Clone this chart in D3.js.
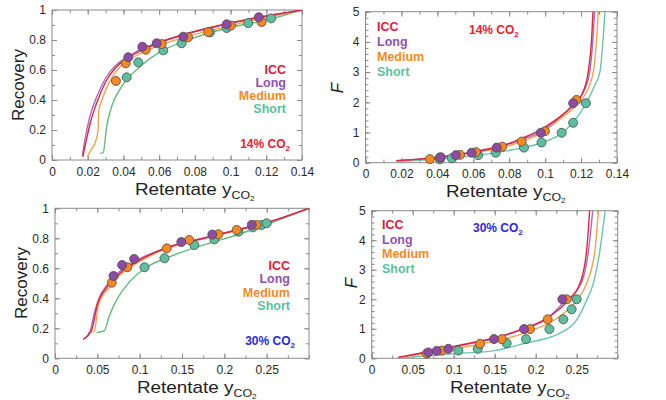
<!DOCTYPE html>
<html>
<head>
<meta charset="utf-8">
<script src="https://cdn.jsdelivr.net/npm/d3@7"></script>
<style>
  body { margin: 0; background: #fff; }
  svg { font-family: "Liberation Sans", Arial, sans-serif; }
</style>
</head>
<body>
<div id="chart"></div>
<script>
// series names + colours
var seriesNames = ["ICC", "Long", "Medium", "Short"];
var textColors = ["#e4163a", "#9052b0", "#f7891f", "#5cbf9e"];
var pointColors = [null, "#8e4ba6", "#f7891f", "#5cbf9e"];

// tick values / labels
var xTicks14 = [0, 0.02, 0.04, 0.06, 0.08, 0.1, 0.12, 0.14];
var xLabels14 = ["0", "0.02", "0.04", "0.06", "0.08", "0.1", "0.12", "0.14"];
var xTicks30 = [0, 0.05, 0.1, 0.15, 0.2, 0.25];
var xLabels30 = ["0", "0.05", "0.1", "0.15", "0.2", "0.25"];
var yTicksRec = [0, 0.2, 0.4, 0.6, 0.8, 1];
var yLabelsRec = ["0", "0.2", "0.4", "0.6", "0.8", "1"];
var yTicksF = [0, 1, 2, 3, 4, 5];
var yLabelsF = ["0", "1", "2", "3", "4", "5"];

// ---- 14% CO2, recovery ----
var rec14IccLine = [[0.0172,0.02],[0.019,0.12],[0.0215,0.25],[0.025,0.38],[0.03,0.52],[0.036,0.62],[0.0427,0.68],[0.05,0.73],[0.0586,0.775],[0.0735,0.835],[0.0978,0.908],[0.1165,0.953],[0.14,1.0]];
var rec14LongLine = [[0.017,0.03],[0.0185,0.14],[0.021,0.28],[0.025,0.42],[0.03,0.545],[0.036,0.635],[0.0427,0.69],[0.05,0.74],[0.0586,0.78],[0.0735,0.835],[0.0978,0.905],[0.1165,0.95],[0.14,1.0]];
var rec14MedLine = [[0.0198,0.02],[0.0215,0.06],[0.0246,0.13],[0.0258,0.2],[0.0262,0.33],[0.028,0.4],[0.0306,0.48],[0.034,0.56],[0.038,0.62],[0.045,0.68],[0.055,0.74],[0.0735,0.815],[0.0978,0.89],[0.1165,0.94],[0.14,1.0]];
var rec14ShortLine = [[0.0269,0.044],[0.0287,0.05],[0.0306,0.222],[0.0334,0.356],[0.039,0.489],[0.0493,0.622],[0.0623,0.733],[0.0735,0.789],[0.0978,0.878],[0.1202,0.933],[0.14,1.0]];
var rec14LongPts = [[0.0427,0.685],[0.0506,0.755],[0.0586,0.778],[0.0735,0.822],[0.0978,0.905],[0.1158,0.952]];
var rec14MedPts = [[0.0358,0.527],[0.0413,0.644],[0.0525,0.735],[0.0614,0.773],[0.0762,0.818],[0.0875,0.853],[0.1002,0.896],[0.1174,0.92]];
var rec14ShortPts = [[0.0418,0.551],[0.0483,0.651],[0.0623,0.731],[0.0726,0.778],[0.0885,0.851],[0.0978,0.88],[0.1099,0.913],[0.1227,0.944]];

// ---- 14% CO2, F ----
var f14IccLine = [[0.0172,0.07],[0.03,0.12],[0.04,0.18],[0.05,0.26],[0.06,0.36],[0.07,0.48],[0.08,0.64],[0.086,0.78],[0.0971,1.08],[0.1045,1.36],[0.1157,1.91],[0.1203,2.24],[0.124,3.01],[0.1259,4.12],[0.1268,5.2]];
var f14LongLine = [[0.0172,0.07],[0.03,0.12],[0.04,0.175],[0.05,0.25],[0.06,0.34],[0.073,0.5],[0.086,0.75],[0.0976,1.03],[0.105,1.34],[0.1156,1.92],[0.121,2.3],[0.1248,3.0],[0.1266,4.1],[0.1277,5.2]];
var f14MedLine = [[0.0172,0.06],[0.03,0.11],[0.04,0.16],[0.05,0.23],[0.06,0.32],[0.07,0.43],[0.08,0.57],[0.09,0.77],[0.099,1.02],[0.1064,1.36],[0.1175,1.91],[0.1221,2.24],[0.1268,3.01],[0.1287,4.12],[0.1298,5.2]];
var f14ShortLine = [[0.0172,0.04],[0.03,0.08],[0.04,0.12],[0.05,0.17],[0.06,0.23],[0.07,0.31],[0.08,0.41],[0.088,0.5],[0.098,0.66],[0.1082,0.94],[0.1157,1.34],[0.1231,2.0],[0.1277,2.57],[0.1305,3.01],[0.1323,4.12],[0.1335,5.2]];
var f14LongPts = [[0.0419,0.18],[0.0503,0.25],[0.0591,0.33],[0.073,0.5],[0.0976,0.99],[0.1156,1.97]];
var f14MedPts = [[0.0358,0.12],[0.0413,0.17],[0.0526,0.26],[0.0615,0.35],[0.0761,0.53],[0.0869,0.7],[0.0999,1.04],[0.1175,2.08]];
var f14ShortPts = [[0.0414,0.11],[0.048,0.15],[0.0627,0.25],[0.0725,0.33],[0.0882,0.5],[0.098,0.67],[0.1092,0.99],[0.1156,1.32],[0.1227,1.97]];

// ---- 30% CO2, recovery ----
var rec30IccLine = [[0.0334,0.127],[0.0433,0.189],[0.0504,0.367],[0.059,0.456],[0.0689,0.522],[0.0787,0.578],[0.0937,0.635],[0.1358,0.744],[0.1752,0.8],[0.2146,0.855],[0.2539,0.911],[0.3,1.0]];
var rec30LongLine = [[0.0334,0.127],[0.0413,0.178],[0.0464,0.3],[0.0512,0.389],[0.063,0.5],[0.0787,0.59],[0.0937,0.645],[0.1358,0.745],[0.1752,0.8],[0.2146,0.855],[0.2539,0.911],[0.3,1.0]];
var rec30MedLine = [[0.0394,0.171],[0.0465,0.182],[0.0512,0.355],[0.065,0.478],[0.0787,0.565],[0.0937,0.625],[0.1358,0.74],[0.1752,0.797],[0.2146,0.852],[0.2539,0.909],[0.3,1.0]];
var rec30ShortLine = [[0.0492,0.171],[0.0583,0.184],[0.0638,0.278],[0.0728,0.389],[0.0866,0.5],[0.1063,0.6],[0.1358,0.678],[0.1752,0.755],[0.2146,0.822],[0.2539,0.9],[0.3,1.0]];
var rec30LongPts = [[0.0691,0.549],[0.0793,0.622],[0.0935,0.662],[0.1492,0.775],[0.1858,0.825],[0.2325,0.89]];
var rec30MedPts = [[0.0671,0.504],[0.0854,0.607],[0.1321,0.733],[0.1585,0.789],[0.1931,0.827],[0.2146,0.856],[0.2378,0.889]];
var rec30ShortPts = [[0.1057,0.607],[0.1293,0.667],[0.1646,0.755],[0.1882,0.793],[0.2167,0.844],[0.2337,0.873],[0.2439,0.889],[0.25,0.9]];

// ---- 30% CO2, F ----
var f30IccLine = [[0.0325,0.03],[0.0793,0.28],[0.128,0.56],[0.1483,0.68],[0.1809,0.96],[0.2134,1.35],[0.2398,1.97],[0.254,2.54],[0.2622,3.67],[0.2662,5.2]];
var f30LongLine = [[0.0325,0.03],[0.0793,0.27],[0.128,0.54],[0.1483,0.66],[0.1849,0.99],[0.2134,1.33],[0.2325,1.85],[0.2556,2.54],[0.2645,3.67],[0.2702,5.2]];
var f30MedLine = [[0.0325,0.02],[0.08,0.22],[0.128,0.46],[0.1565,0.62],[0.1971,0.96],[0.2256,1.35],[0.25,1.97],[0.2622,2.54],[0.2723,3.67],[0.277,5.2]];
var f30ShortLine = [[0.0325,0.01],[0.07,0.09],[0.1077,0.17],[0.1483,0.25],[0.187,0.51],[0.2296,0.85],[0.25,1.3],[0.2622,1.97],[0.2703,2.54],[0.2784,3.67],[0.2855,5.2]];
var f30LongPts = [[0.0691,0.2],[0.0793,0.25],[0.0935,0.32],[0.1492,0.65],[0.1858,0.99],[0.2325,2.0]];
var f30MedPts = [[0.0671,0.16],[0.0854,0.26],[0.1321,0.49],[0.1585,0.65],[0.1931,0.99],[0.2146,1.32],[0.2378,2.0]];
var f30ShortPts = [[0.1057,0.26],[0.1293,0.32],[0.1646,0.51],[0.1882,0.65],[0.2167,0.99],[0.2337,1.32],[0.2439,1.66],[0.25,2.0]];

var svg = d3.select("#chart").append("svg")
    .attr("width", 666)
    .attr("height", 400);

var panels = [
  { id: "p1", left: 52, top: 10, w: 250, h: 150, xDom: [0, 0.14], yDom: [0, 1],
    xTicks: xTicks14, xLabels: xLabels14, xMinor: d3.range(0, 0.1401, 0.01),
    yTicks: yTicksRec, yLabels: yLabelsRec, yMinor: d3.range(0, 1.001, 0.1),
    lines: [rec14IccLine, rec14LongLine, rec14MedLine, rec14ShortLine],
    pts: [null, rec14LongPts, rec14MedPts, rec14ShortPts],
    lineColors: ["#e0243e", "#a66cc8", "#f9a04a", "#62bb7c"],
    yTitle: "Recovery", yTitleX: 24, yTitleY: 85, italic: false,
    xTitleX: 135, xTitleY: 194.5,
    legend: { x: 286, y: 74, dy: 13, anchor: "end" },
    gas: { x: 290, y: 148, text: "14% CO", color: "#e8202f", anchor: "end" } },
  { id: "p2", left: 365.5, top: 11.7, w: 251.5, h: 151, xDom: [0, 0.14], yDom: [0, 5],
    xTicks: xTicks14, xLabels: xLabels14, xMinor: d3.range(0, 0.1401, 0.01),
    yTicks: yTicksF, yLabels: yLabelsF, yMinor: d3.range(0, 5.001, 0.2),
    lines: [f14IccLine, f14LongLine, f14MedLine, f14ShortLine],
    pts: [null, f14LongPts, f14MedPts, f14ShortPts],
    lineColors: ["#e0243e", "#a66cc8", "#f9a04a", "#6cc4b0"],
    yTitle: "F", yTitleX: 343, yTitleY: 88, italic: true,
    xTitleX: 446, xTitleY: 197,
    legend: { x: 377, y: 31, dy: 15, anchor: "start" },
    gas: { x: 469, y: 34, text: "14% CO", color: "#e8202f", anchor: "start" } },
  { id: "p3", left: 55, top: 208.3, w: 254, h: 150, xDom: [0, 0.3], yDom: [0, 1],
    xTicks: xTicks30, xLabels: xLabels30, xMinor: d3.range(0, 0.3001, 0.025),
    yTicks: yTicksRec, yLabels: yLabelsRec, yMinor: d3.range(0, 1.001, 0.1),
    lines: [rec30IccLine, rec30LongLine, rec30MedLine, rec30ShortLine],
    pts: [null, rec30LongPts, rec30MedPts, rec30ShortPts],
    lineColors: ["#e0243e", "#a66cc8", "#f9a04a", "#62bb7c"],
    yTitle: "Recovery", yTitleX: 27, yTitleY: 283, italic: false,
    xTitleX: 137, xTitleY: 392.5,
    legend: { x: 290, y: 270, dy: 13.3, anchor: "end" },
    gas: { x: 295, y: 345, text: "30% CO", color: "#2a2ae0", anchor: "end" } },
  { id: "p4", left: 371.7, top: 210.7, w: 246, h: 147.6, xDom: [0, 0.3], yDom: [0, 5],
    xTicks: xTicks30, xLabels: xLabels30, xMinor: d3.range(0, 0.3001, 0.025),
    yTicks: yTicksF, yLabels: yLabelsF, yMinor: d3.range(0, 5.001, 0.2),
    lines: [f30IccLine, f30LongLine, f30MedLine, f30ShortLine],
    pts: [null, f30LongPts, f30MedPts, f30ShortPts],
    lineColors: ["#e0243e", "#a66cc8", "#f9a04a", "#6cc4b0"],
    yTitle: "F", yTitleX: 357, yTitleY: 283, italic: true,
    xTitleX: 450, xTitleY: 393,
    legend: { x: 382, y: 229, dy: 14.5, anchor: "start" },
    gas: { x: 473, y: 232, text: "30% CO", color: "#2a2ae0", anchor: "start" } }
];

function styleAxis(sel) {
  sel.select(".domain").remove();
  sel.selectAll(".tick line").attr("stroke", "#8a8a8a");
  sel.selectAll(".tick text").attr("fill", "#2a2a2a").attr("font-size", 12);
}

panels.forEach(function(p) {
  var g = svg.append("g").attr("transform", "translate(" + p.left + "," + p.top + ")");
  var x = d3.scaleLinear().domain(p.xDom).range([0, p.w]);
  var y = d3.scaleLinear().domain(p.yDom).range([p.h, 0]);

  // minor ticks, all four sides, pointing inward
  g.append("g").attr("transform", "translate(0," + p.h + ")")
    .call(d3.axisBottom(x).tickValues(p.xMinor).tickSize(-3).tickFormat("")).call(styleAxis);
  g.append("g")
    .call(d3.axisTop(x).tickValues(p.xMinor).tickSize(-3).tickFormat("")).call(styleAxis);
  g.append("g")
    .call(d3.axisLeft(y).tickValues(p.yMinor).tickSize(-3).tickFormat("")).call(styleAxis);
  g.append("g").attr("transform", "translate(" + p.w + ",0)")
    .call(d3.axisRight(y).tickValues(p.yMinor).tickSize(-3).tickFormat("")).call(styleAxis);

  // major ticks with labels
  g.append("g").attr("transform", "translate(0," + p.h + ")")
    .call(d3.axisBottom(x).tickValues(p.xTicks).tickSize(-5).tickPadding(7)
      .tickFormat(function(d, i) { return p.xLabels[i]; }))
    .call(styleAxis);
  g.append("g")
    .call(d3.axisLeft(y).tickValues(p.yTicks).tickSize(-5).tickPadding(6)
      .tickFormat(function(d, i) { return p.yLabels[i]; }))
    .call(styleAxis);
  g.append("g")
    .call(d3.axisTop(x).tickValues(p.xTicks).tickSize(-5).tickFormat("")).call(styleAxis);
  g.append("g").attr("transform", "translate(" + p.w + ",0)")
    .call(d3.axisRight(y).tickValues(p.yTicks).tickSize(-5).tickFormat("")).call(styleAxis);

  // frame
  g.append("rect")
    .attr("width", p.w).attr("height", p.h)
    .attr("fill", "none").attr("stroke", "#8a8a8a").attr("stroke-width", 1);

  g.append("clipPath").attr("id", "clip-" + p.id)
    .append("rect").attr("width", p.w).attr("height", p.h);

  var line = d3.line()
    .x(d => x(d[0]))
    .y(d => y(d[1]))
    .curve(d3.curveMonotoneX);

  var lineOrder = [3, 2, 1, 0]; // short at back, ICC on top
  lineOrder.forEach(function(k) {
    g.append("path")
      .datum(p.lines[k])
      .attr("clip-path", "url(#clip-" + p.id + ")")
      .attr("fill", "none")
      .attr("stroke", p.lineColors[k])
      .attr("stroke-width", 1.4)
      .attr("d", line);
  });

  // points: short, then medium, then long
  [3, 2, 1].forEach(function(k) {
    g.selectAll("circle.s" + k)
      .data(p.pts[k])
      .enter()
      .append("circle")
      .attr("class", "s" + k)
      .attr("cx", d => x(d[0]))
      .attr("cy", d => y(d[1]))
      .attr("r", 4.5)
      .attr("fill", pointColors[k])
      .attr("stroke", "#4a4a4a")
      .attr("stroke-width", 0.8);
  });

  // axis titles
  var yt = svg.append("text")
    .attr("transform", "translate(" + p.yTitleX + "," + p.yTitleY + ") rotate(-90)")
    .attr("text-anchor", "middle")
    .attr("font-size", 17)
    .attr("fill", "#222")
    .text(p.yTitle);
  if (p.italic) yt.attr("font-style", "italic");

  // x title is a little wider than plain text in the original
  var xt = svg.append("text")
    .attr("transform", "translate(" + p.xTitleX + "," + p.xTitleY + ") scale(1.18,1)")
    .attr("font-size", 16)
    .attr("fill", "#222");
  xt.append("tspan").text("Retentate y");
  xt.append("tspan").attr("font-size", 10.5).attr("dy", 4).text("CO");
  xt.append("tspan").attr("font-size", 7).attr("dy", 2).text("2");

  // legend
  seriesNames.forEach(function(name, i) {
    svg.append("text")
      .attr("x", p.legend.x)
      .attr("y", p.legend.y + i * p.legend.dy)
      .attr("text-anchor", p.legend.anchor)
      .attr("font-size", 12.5)
      .attr("font-weight", "bold")
      .attr("fill", textColors[i])
      .text(name);
  });

  // gas concentration label
  var gt = svg.append("text")
    .attr("x", p.gas.x).attr("y", p.gas.y)
    .attr("text-anchor", p.gas.anchor)
    .attr("font-size", 12)
    .attr("font-weight", "bold")
    .attr("fill", p.gas.color);
  gt.append("tspan").text(p.gas.text);
  gt.append("tspan").attr("font-size", 8).attr("dy", 3).text("2");
});
</script>
</body>
</html>
